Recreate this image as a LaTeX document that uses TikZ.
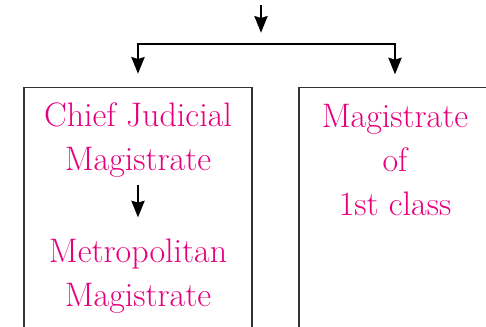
\documentclass[tikz,border=0pt]{standalone}
\usepackage{xcolor}
\usepackage{tikz}
\usetikzlibrary{positioning,arrows.meta}
\definecolor{courtpink}{RGB}{230,0,126}

\begin{document}
\begin{tikzpicture}[x=0.75pt,y=-0.75pt,>={Stealth[length=12.5pt,width=10pt,inset=1.5pt]},line width=1.3pt]
\tikzstyle{court}=[draw=black!80,line width=0.9pt,minimum height=200pt,anchor=north,inner sep=0pt]
\tikzstyle{txt}=[text=courtpink,align=center,inner sep=0pt,font=\fontsize{25.5}{33}\selectfont]
\clip (0,0) rectangle (486,326);
\coordinate (in) at (261,5);
\coordinate (hub) at (261,44);
\node[court,minimum width=171pt] (cjbox) at (138,87) {};
\node[court,minimum width=144pt] (fcbox) at (395,87) {};
\node[txt,anchor=north] (cjm) at (138,102) {Chief Judicial\\Magistrate};
\node[txt,anchor=north] (mm) at (138,238) {Metropolitan\\Magistrate};
\node[txt,anchor=north] (fc) at (395,103) {Magistrate\\of\\1st class};
\draw[->,shorten >=8.5pt] (in) -- (hub);
\draw[->,shorten >=10pt] (hub) -| (cjbox.north);
\draw[->,shorten >=9.5pt] (hub) -| (fcbox.north);
\draw[->,shorten <=5pt,shorten >=15.5pt] (cjm.south) -- (mm.north);
\end{tikzpicture}
\end{document}
